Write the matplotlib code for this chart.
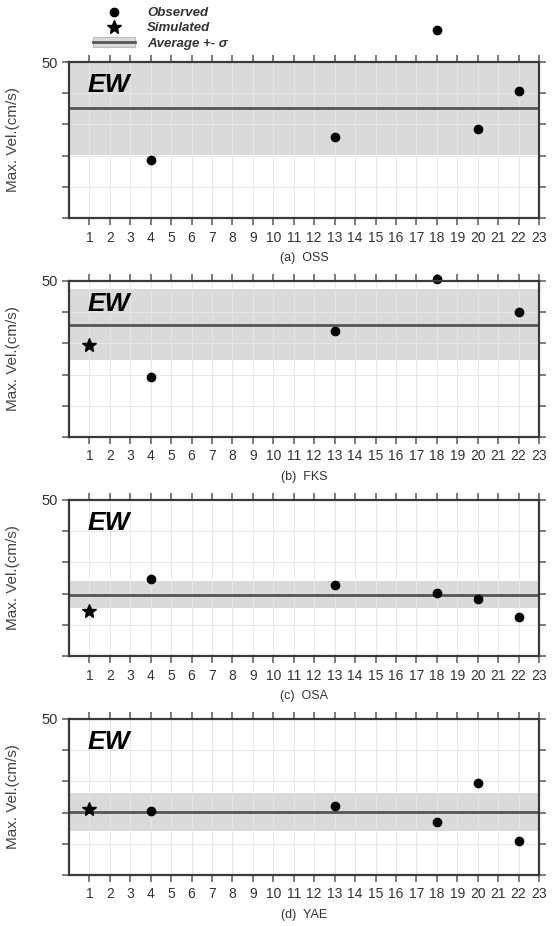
import numpy as np
import matplotlib
matplotlib.use("Agg")
import matplotlib.pyplot as plt
from matplotlib.lines import Line2D
from matplotlib.patches import Patch

plt.rcParams['font.family'] = ['Liberation Sans', 'DejaVu Sans']

# ---- data ----
stations = [4, 13, 18, 20, 22]
panel_labels = ["(a)  OSS", "(b)  FKS", "(c)  OSA", "(d)  YAE"]
observed_a = [18.7, 26.0, 60.3, 28.6, 40.6]
observed_b = [19.3, 33.9, 50.5, np.nan, 40.1]
observed_c = [24.6, 22.9, 20.2, 18.3, 12.4]
observed_d = [20.6, 22.1, 17.0, 29.6, 11.0]
simulated_x = 1
simulated = [np.nan, 29.4, 14.3, 21.2]
average = [35.1, 36.0, 19.7, 20.1]
sigma = [15.0, 11.4, 4.35, 6.1]
xticks = list(range(1, 24))
yticks = [0, 10, 20, 30, 40, 50]
ytick_labels = ["", "", "", "", "", "50"]

observed = [observed_a, observed_b, observed_c, observed_d]

W, H = 555, 926
fig = plt.figure(figsize=(W / 100, H / 100), dpi=100)

left_px, right_px = 69, 539
tops = [62, 281, 500, 719]
bottoms = [218, 437, 656, 875]

band_color = '#dadada'
line_color = '#555555'
frame_color = '#3a3a3a'
grid_color = '#e8e8e8'

axes = []
for i in range(4):
    ax = fig.add_axes([left_px / W, 1 - bottoms[i] / H,
                       (right_px - left_px) / W, (bottoms[i] - tops[i]) / H])
    axes.append(ax)
    ax.set_xlim(0, 23)
    ax.set_ylim(0, 50)
    # band and average
    ax.axhspan(average[i] - sigma[i], average[i] + sigma[i], color=band_color, zorder=1, lw=0)
    ax.set_xticks(xticks)
    ax.set_xticklabels([str(t) for t in xticks], fontsize=10, color='#333333')
    ax.set_yticks(yticks)
    ax.set_yticklabels(ytick_labels, fontsize=10.5, color='#333333')
    ax.grid(True, color=grid_color, lw=0.7, zorder=2)
    ax.set_axisbelow(False)
    for gl in ax.get_xgridlines() + ax.get_ygridlines():
        gl.set_zorder(2)
    ax.axhline(average[i], color=line_color, lw=2.0, zorder=3)
    # observed points
    ax.plot(stations, observed[i], 'o', color='black', ms=6, zorder=5, clip_on=False)
    if not np.isnan(simulated[i]):
        ax.plot([simulated_x], [simulated[i]], '*', color='black', ms=10, zorder=5, clip_on=False)
    ax.tick_params(axis='both', direction='out', length=5, width=1.2, color='#666666',
                   top=True, right=True, pad=3)
    ax.tick_params(axis='x', pad=4)
    for sp in ax.spines.values():
        sp.set_color(frame_color)
        sp.set_linewidth(1.6)
        sp.set_zorder(6)
    ax.text(0.04, 0.85, "EW", transform=ax.transAxes, fontsize=19, fontweight='bold',
            fontstyle='italic', va='center', ha='left', zorder=7)
    ax.set_ylabel("Max. Vel.(cm/s)", fontsize=11, color='#444444')
    ax.yaxis.set_label_coords(-0.104, 0.5)
    ax.text(0.5, -40 / 156, panel_labels[i], transform=ax.transAxes, fontsize=9,
            ha='center', va='center', color='#333333')

# legend
handles = [Line2D([], [], marker='o', ls='none', color='black', ms=6),
           Line2D([], [], marker='*', ls='none', color='black', ms=10),
           (Patch(facecolor=band_color, edgecolor='#bbbbbb', lw=0.8),
            Line2D([], [], color=line_color, lw=2.0))]
labels = ["Observed", "Simulated", "Average +- σ"]
leg = fig.legend(handles, labels, loc='upper left', bbox_to_anchor=(93 / W, 1 - 7 / H),
                 bbox_transform=fig.transFigure, frameon=False, borderpad=0, borderaxespad=0,
                 handlelength=3.2, handletextpad=0.9, labelspacing=0.22,
                 prop={'size': 9.5, 'style': 'italic', 'weight': 'bold'})
for t in leg.get_texts():
    t.set_color('#333333')

fig.savefig("out.png", dpi=100)
